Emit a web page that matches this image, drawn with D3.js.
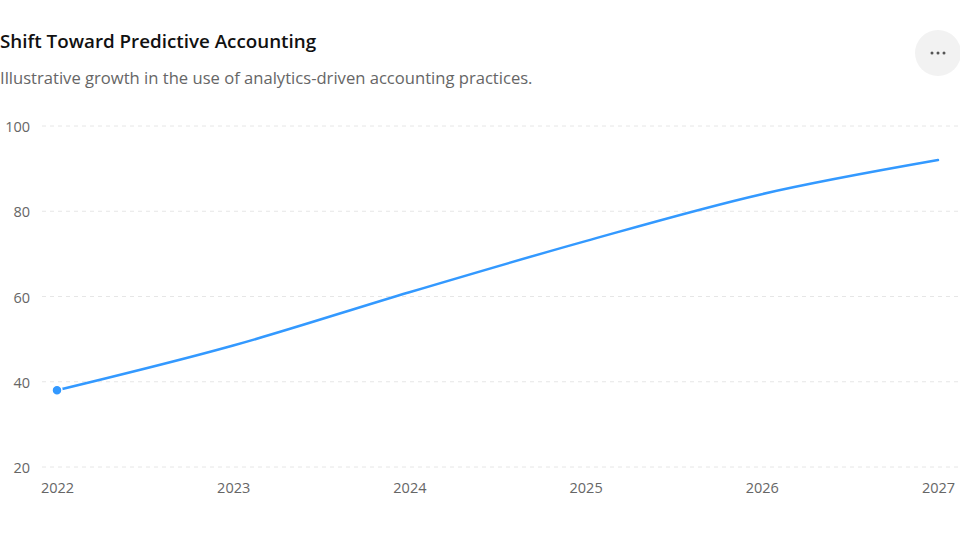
<!DOCTYPE html>
<html>
<head>
<meta charset="utf-8">
<script src="https://cdn.jsdelivr.net/npm/d3@7"></script>
<style>
  body { margin: 0; background: #fff; }
  text { font-family: "Open Sans", "Noto Sans", sans-serif; }
</style>
</head>
<body>
<div id="chart"></div>
<script>
const years = [2022, 2023, 2024, 2025, 2026, 2027]
const adoption = [38, 48.5, 61, 73, 84, 92]
const yTicks = [20, 40, 60, 80, 100]

const width = 960
const height = 540
const BLUE = '#3399ff'

const margin = { top: 126, right: 22, bottom: 73, left: 57 }

const svg = d3.select('#chart').append('svg')
	.attr('width', width)
	.attr('height', height)

// title + subtitle
svg.append('text')
	.attr('x', 0)
	.attr('y', 48)
	.text('Shift Toward Predictive Accounting')
	.style('font-size', '18.8px')
	.style('font-weight', '600')
	.attr('fill', '#111')

svg.append('text')
	.attr('x', 0)
	.attr('y', 84)
	.text('Illustrative growth in the use of analytics-driven accounting practices.')
	.style('font-size', '16.6px')
	.attr('fill', '#666')

// menu button
const menu = svg.append('g').attr('transform', 'translate(938,53)')
menu.append('circle').attr('r', 23).attr('fill', '#f2f2f2')
menu.selectAll('circle.dot')
	.data([-6, 0, 6])
	.enter()
		.append('circle')
		.attr('class', 'dot')
		.attr('cx', d => d)
		.attr('r', 1.5)
		.attr('fill', '#555')

let x = d3.scalePoint()
	.domain(years)
	.range([margin.left, width - margin.right])

let y = d3.scaleLinear()
	.domain([20, 100])
	.range([height - margin.bottom, margin.top])

// gridlines
svg.append('g')
	.selectAll('line')
	.data(yTicks)
	.enter()
		.append('line')
		.attr('x1', 42)
		.attr('x2', width)
		.attr('y1', d => y(d))
		.attr('y2', d => y(d))
		.attr('stroke', '#e6e6e6')
		.attr('stroke-dasharray', '4,4')

// y axis labels
let yAxis = svg.append('g')
	.attr('transform', 'translate(30,1)')
	.call(d3.axisLeft(y).tickValues(yTicks).tickSize(0).tickPadding(0))
yAxis.select('.domain').remove()
yAxis.selectAll('text')
	.style('font-size', '14.5px')
	.style('font-family', '"Open Sans", "Noto Sans", sans-serif')
	.attr('fill', '#666')

// x axis labels
let xAxis = svg.append('g')
	.attr('transform', `translate(0,${height - margin.bottom})`)
	.call(d3.axisBottom(x).tickSize(0).tickPadding(16).tickFormat(d3.format('d')))
xAxis.select('.domain').remove()
xAxis.selectAll('text')
	.style('font-size', '14.5px')
	.style('font-family', '"Open Sans", "Noto Sans", sans-serif')
	.attr('fill', '#666')

const points = years.map((yr, i) => ({ year: yr, value: adoption[i] }))

let line = d3.line()
	.x(d => x(d.year))
	.y(d => y(d.value))
	.curve(d3.curveMonotoneX)

svg.append('path')
	.datum(points)
	.attr('d', line)
	.attr('fill', 'none')
	.attr('stroke', BLUE)
	.attr('stroke-width', 2.5)
	.attr('stroke-linecap', 'round')

// starting marker
svg.append('circle')
	.attr('cx', x(points[0].year))
	.attr('cy', y(points[0].value))
	.attr('r', 5)
	.attr('fill', BLUE)
	.attr('stroke', '#fff')
	.attr('stroke-width', 1.5)
</script>
</body>
</html>
